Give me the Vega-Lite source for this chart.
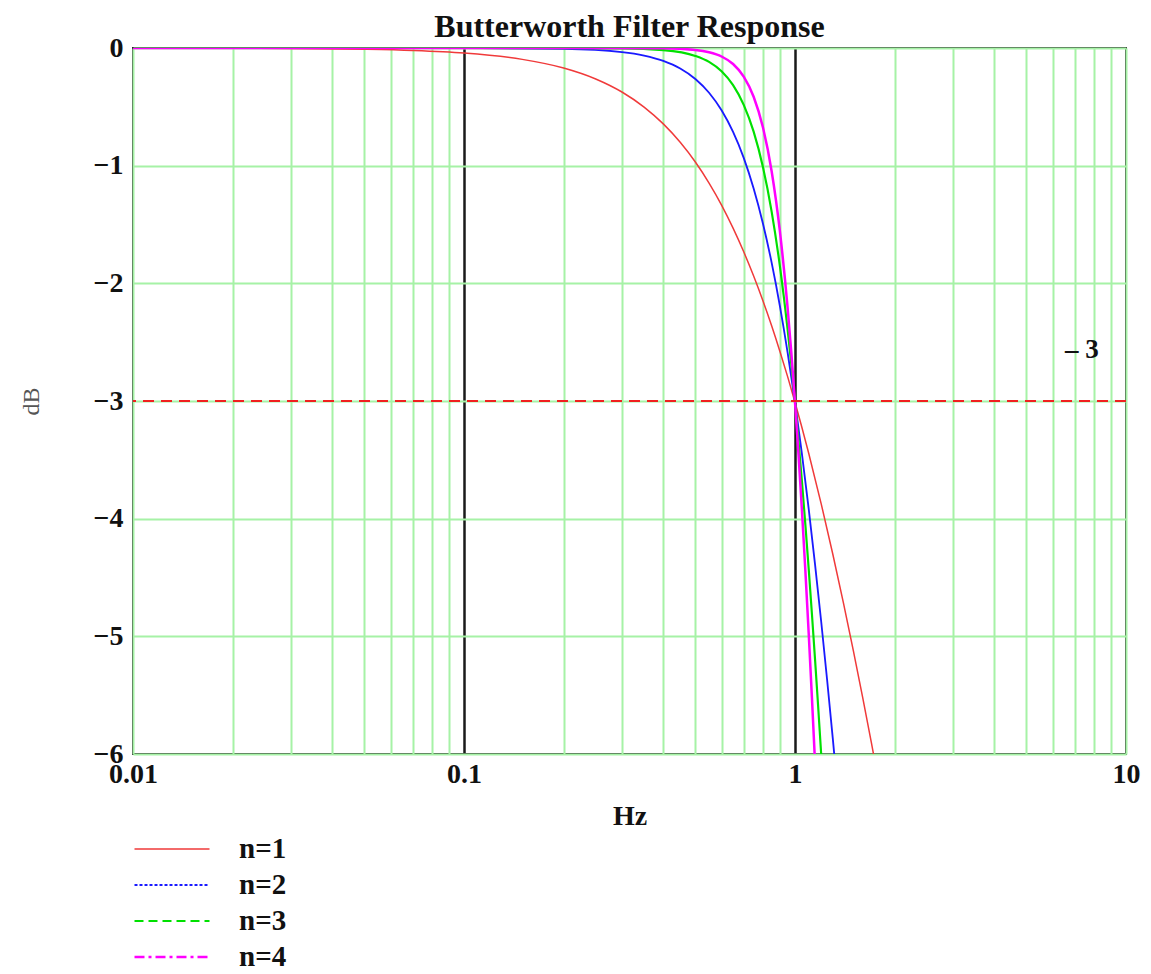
{
  "$schema": "https://vega.github.io/schema/vega-lite/v6.json",
  "autosize": "none",
  "width": 993,
  "height": 706,
  "padding": {"left": 133, "top": 48, "right": 25, "bottom": 220},
  "background": "white",
  "config": {
    "view": {"stroke": "#222222", "strokeWidth": 2},
    "font": "Liberation Serif"
  },
  "title": {
    "text": "Butterworth Filter Response",
    "font": "Liberation Serif",
    "fontSize": 32,
    "fontWeight": "bold",
    "color": "#111111",
    "offset": -10
  },
  "layer": [
    {
      "data": {"values": [
        {"n": "n=1", "f": 0.01, "db": 0},
        {"n": "n=1", "f": 0.02, "db": -0.0017},
        {"n": "n=1", "f": 0.03, "db": -0.0039},
        {"n": "n=1", "f": 0.05, "db": -0.0108},
        {"n": "n=1", "f": 0.07, "db": -0.0212},
        {"n": "n=1", "f": 0.1, "db": -0.0432},
        {"n": "n=1", "f": 0.15, "db": -0.0966},
        {"n": "n=1", "f": 0.2, "db": -0.170},
        {"n": "n=1", "f": 0.25, "db": -0.263},
        {"n": "n=1", "f": 0.3, "db": -0.374},
        {"n": "n=1", "f": 0.35, "db": -0.502},
        {"n": "n=1", "f": 0.4, "db": -0.645},
        {"n": "n=1", "f": 0.45, "db": -0.801},
        {"n": "n=1", "f": 0.5, "db": -0.969},
        {"n": "n=1", "f": 0.55, "db": -1.148},
        {"n": "n=1", "f": 0.6, "db": -1.335},
        {"n": "n=1", "f": 0.65, "db": -1.531},
        {"n": "n=1", "f": 0.7, "db": -1.732},
        {"n": "n=1", "f": 0.75, "db": -1.938},
        {"n": "n=1", "f": 0.8, "db": -2.148},
        {"n": "n=1", "f": 0.85, "db": -2.361},
        {"n": "n=1", "f": 0.9, "db": -2.577},
        {"n": "n=1", "f": 0.95, "db": -2.793},
        {"n": "n=1", "f": 1.0, "db": -3.010},
        {"n": "n=1", "f": 1.1, "db": -3.444},
        {"n": "n=1", "f": 1.2, "db": -3.874},
        {"n": "n=1", "f": 1.3, "db": -4.298},
        {"n": "n=1", "f": 1.4, "db": -4.713},
        {"n": "n=1", "f": 1.5, "db": -5.119},
        {"n": "n=1", "f": 1.6, "db": -5.514},
        {"n": "n=1", "f": 1.7, "db": -5.899},
        {"n": "n=1", "f": 1.8, "db": -6.274},

        {"n": "n=2", "f": 0.01, "db": 0},
        {"n": "n=2", "f": 0.1, "db": -0.0004},
        {"n": "n=2", "f": 0.2, "db": -0.0069},
        {"n": "n=2", "f": 0.3, "db": -0.035},
        {"n": "n=2", "f": 0.35, "db": -0.0647},
        {"n": "n=2", "f": 0.4, "db": -0.110},
        {"n": "n=2", "f": 0.45, "db": -0.1745},
        {"n": "n=2", "f": 0.5, "db": -0.263},
        {"n": "n=2", "f": 0.55, "db": -0.380},
        {"n": "n=2", "f": 0.6, "db": -0.529},
        {"n": "n=2", "f": 0.65, "db": -0.713},
        {"n": "n=2", "f": 0.7, "db": -0.934},
        {"n": "n=2", "f": 0.75, "db": -1.194},
        {"n": "n=2", "f": 0.8, "db": -1.491},
        {"n": "n=2", "f": 0.85, "db": -1.824},
        {"n": "n=2", "f": 0.9, "db": -2.191},
        {"n": "n=2", "f": 0.95, "db": -2.588},
        {"n": "n=2", "f": 1.0, "db": -3.010},
        {"n": "n=2", "f": 1.05, "db": -3.455},
        {"n": "n=2", "f": 1.1, "db": -3.916},
        {"n": "n=2", "f": 1.15, "db": -4.392},
        {"n": "n=2", "f": 1.2, "db": -4.876},
        {"n": "n=2", "f": 1.25, "db": -5.367},
        {"n": "n=2", "f": 1.3, "db": -5.861},
        {"n": "n=2", "f": 1.35, "db": -6.357},

        {"n": "n=3", "f": 0.01, "db": 0},
        {"n": "n=3", "f": 0.1, "db": 0},
        {"n": "n=3", "f": 0.3, "db": -0.0032},
        {"n": "n=3", "f": 0.4, "db": -0.0178},
        {"n": "n=3", "f": 0.5, "db": -0.0673},
        {"n": "n=3", "f": 0.55, "db": -0.1185},
        {"n": "n=3", "f": 0.6, "db": -0.198},
        {"n": "n=3", "f": 0.65, "db": -0.316},
        {"n": "n=3", "f": 0.7, "db": -0.483},
        {"n": "n=3", "f": 0.75, "db": -0.711},
        {"n": "n=3", "f": 0.8, "db": -1.011},
        {"n": "n=3", "f": 0.85, "db": -1.390},
        {"n": "n=3", "f": 0.9, "db": -1.851},
        {"n": "n=3", "f": 0.95, "db": -2.393},
        {"n": "n=3", "f": 0.975, "db": -2.693},
        {"n": "n=3", "f": 1.0, "db": -3.010},
        {"n": "n=3", "f": 1.025, "db": -3.344},
        {"n": "n=3", "f": 1.05, "db": -3.692},
        {"n": "n=3", "f": 1.075, "db": -4.054},
        {"n": "n=3", "f": 1.1, "db": -4.427},
        {"n": "n=3", "f": 1.125, "db": -4.810},
        {"n": "n=3", "f": 1.15, "db": -5.202},
        {"n": "n=3", "f": 1.175, "db": -5.601},
        {"n": "n=3", "f": 1.2, "db": -6.005},
        {"n": "n=3", "f": 1.25, "db": -6.826},

        {"n": "n=4", "f": 0.01, "db": 0},
        {"n": "n=4", "f": 0.1, "db": 0},
        {"n": "n=4", "f": 0.4, "db": -0.0028},
        {"n": "n=4", "f": 0.5, "db": -0.0169},
        {"n": "n=4", "f": 0.55, "db": -0.0362},
        {"n": "n=4", "f": 0.6, "db": -0.0723},
        {"n": "n=4", "f": 0.65, "db": -0.136},
        {"n": "n=4", "f": 0.7, "db": -0.243},
        {"n": "n=4", "f": 0.75, "db": -0.414},
        {"n": "n=4", "f": 0.8, "db": -0.674},
        {"n": "n=4", "f": 0.85, "db": -1.047},
        {"n": "n=4", "f": 0.9, "db": -1.555},
        {"n": "n=4", "f": 0.95, "db": -2.210},
        {"n": "n=4", "f": 0.975, "db": -2.593},
        {"n": "n=4", "f": 1.0, "db": -3.010},
        {"n": "n=4", "f": 1.025, "db": -3.461},
        {"n": "n=4", "f": 1.05, "db": -3.940},
        {"n": "n=4", "f": 1.075, "db": -4.446},
        {"n": "n=4", "f": 1.1, "db": -4.974},
        {"n": "n=4", "f": 1.125, "db": -5.521},
        {"n": "n=4", "f": 1.15, "db": -6.084},
        {"n": "n=4", "f": 1.2, "db": -7.243}
      ]},
      "mark": {"type": "line", "interpolate": "monotone", "clip": true},
      "encoding": {
        "x": {
          "field": "f", "type": "quantitative",
          "scale": {"type": "log", "domain": [0.01, 10], "nice": false},
          "axis": {
            "title": "Hz",
            "titleFont": "Liberation Serif", "titleFontSize": 28, "titleFontWeight": "bold", "titleColor": "#111111", "titlePadding": 14,
            "values": [0.01, 0.02, 0.03, 0.04, 0.05, 0.06, 0.07, 0.08, 0.09, 0.1, 0.2, 0.3, 0.4, 0.5, 0.6, 0.7, 0.8, 0.9, 1, 2, 3, 4, 5, 6, 7, 8, 9, 10],
            "format": "~g",
            "labelExpr": "(datum.value == 0.01 || datum.value == 0.1 || datum.value == 1 || datum.value == 10) ? datum.label : ''",
            "labelFont": "Liberation Serif", "labelFontSize": 28, "labelFontWeight": "bold", "labelColor": "#111111",
            "labelPadding": 6, "labelOverlap": false, "labelFlush": false,
            "ticks": false, "domain": false,
            "grid": true,
            "gridColor": {"condition": {"test": "datum.value == 0.1 || datum.value == 1", "value": "#1a1a1a"}, "value": "#a6f2a6"},
            "gridWidth": {"condition": {"test": "datum.value == 0.1 || datum.value == 1", "value": 2.5}, "value": 2},
            "gridOpacity": 1
          }
        },
        "y": {
          "field": "db", "type": "quantitative",
          "scale": {"domain": [-6, 0], "nice": false, "zero": false},
          "axis": {
            "title": "dB",
            "titleFont": "Liberation Serif", "titleFontSize": 24, "titleFontWeight": "normal", "titleColor": "#555555", "titlePadding": 50,
            "values": [0, -1, -2, -3, -4, -5, -6],
            "format": "d",
            "labelFont": "Liberation Serif", "labelFontSize": 28, "labelFontWeight": "bold", "labelColor": "#111111",
            "labelPadding": 10,
            "ticks": false, "domain": false,
            "grid": true, "gridColor": "#a6f2a6", "gridWidth": 2, "gridOpacity": 1
          }
        },
        "color": {
          "field": "n", "type": "nominal",
          "scale": {"domain": ["n=1", "n=2", "n=3", "n=4"], "range": ["#f03a3a", "#1a1aff", "#00e000", "#ff00ff"]},
          "legend": {
            "title": null,
            "orient": "none",
            "legendX": 0,
            "legendY": 786,
            "direction": "vertical",
            "symbolType": "stroke",
            "symbolSize": 5625,
            "symbolStrokeWidth": 3,
            "clipHeight": 30,
            "labelFont": "Liberation Serif", "labelFontSize": 29, "labelFontWeight": "bold", "labelColor": "#111111",
            "labelOffset": 28,
            "rowPadding": 6,
            "padding": 0,
            "encode": {
              "symbols": {"update": {
                "strokeDash": {"signal": "datum.value == 'n=2' ? [3, 2] : datum.value == 'n=3' ? [9, 5] : datum.value == 'n=4' ? [10, 4, 3, 4] : [1, 0]"},
                "strokeWidth": {"signal": "datum.value == 'n=1' ? 2 : 3.5"}
              }}
            }
          }
        },
        "strokeWidth": {
          "field": "n", "type": "nominal",
          "scale": {"domain": ["n=1", "n=2", "n=3", "n=4"], "range": [1.5, 2.5, 2.5, 3.2]},
          "legend": null
        }
      }
    },
    {
      "data": {"values": [{"db": -3}]},
      "mark": {"type": "rule", "color": "#f02020", "strokeWidth": 2, "strokeDash": [11, 7]},
      "encoding": {"y": {"field": "db", "type": "quantitative"}}
    },
    {
      "data": {"values": [{"f": 7.36, "db": -2.57, "label": "– 3"}]},
      "mark": {"type": "text", "font": "Liberation Serif", "fontSize": 27, "fontWeight": "bold", "color": "#111111"},
      "encoding": {
        "x": {"field": "f", "type": "quantitative"},
        "y": {"field": "db", "type": "quantitative"},
        "text": {"field": "label"}
      }
    }
  ]
}
